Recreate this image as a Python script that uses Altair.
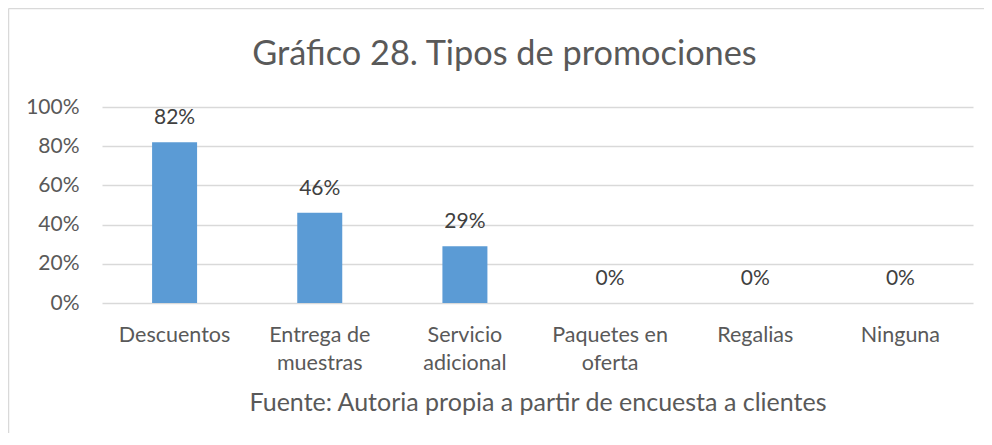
import altair as alt
import pandas as pd

categories = ["Descuentos", "Entrega de muestras", "Servicio adicional",
              "Paquetes en oferta", "Regalias", "Ninguna"]
values = [0.82, 0.46, 0.29, 0.0, 0.0, 0.0]
y_ticks = [0, 0.2, 0.4, 0.6, 0.8, 1.0]

title_text = "Gráfico 28. Tipos de promociones"
source_text = "Fuente: Autoria propia a partir de encuesta a clientes"

df = pd.DataFrame({"categoria": categories, "valor": values})

FONT = "Lato"
TXT = "#595959"
GRID = "#D9D9D9"

label_expr = ("lastindexof(datum.label,' ') > 0 ? "
              "[substring(datum.label,0,lastindexof(datum.label,' ')), "
              "substring(datum.label,lastindexof(datum.label,' ')+1)] : datum.label")

x_enc = alt.X("categoria:N", sort=categories,
              scale=alt.Scale(paddingInner=0.69, paddingOuter=0.345),
              axis=alt.Axis(title=source_text, labelAngle=0, labelExpr=label_expr,
                            labelFont=FONT, labelFontSize=21.5, labelColor=TXT,
                            labelLineHeight=28, labelPadding=21, ticks=False,
                            domain=False, titleFont=FONT, titleFontSize=25,
                            titleFontWeight="normal", titleColor=TXT,
                            titlePadding=17))
y_axis = alt.Axis(title=None, values=y_ticks, format=".0%",
                  labelFont=FONT, labelFontSize=21, labelColor=TXT,
                  labelPadding=23, ticks=False, domain=False,
                  labelOverlap=False, labelFlush=False,
                  grid=True, gridColor=GRID, gridWidth=1.5)
y_enc = alt.Y("valor:Q", scale=alt.Scale(domain=[0, 1], nice=False), axis=y_axis)

frame_df = pd.DataFrame({"k": [0]})
left_edge = alt.Chart(frame_df).mark_rule(color=GRID, strokeWidth=1.5, clip=False).encode(
    x=alt.value(-93.5), y=alt.value(-98.5), y2=alt.value(800)
)
top_edge = alt.Chart(frame_df).mark_rule(color=GRID, strokeWidth=1.5, clip=False).encode(
    x=alt.value(-93.5), x2=alt.value(1200), y=alt.value(-98.5)
)

title_mark = alt.Chart(pd.DataFrame({"t": [title_text]})).mark_text(
    font=FONT, fontSize=34.3, color=TXT, align="center", baseline="alphabetic"
).encode(x=alt.value(402.5), y=alt.value(-42), text="t:N")

bars = alt.Chart(df).mark_bar(color="#5B9BD5").encode(x=x_enc, y=y_enc)

labels = alt.Chart(df).mark_text(baseline="bottom", dy=-14, font=FONT, fontSize=21,
                                 color="#404040").encode(
    x=alt.X("categoria:N", sort=categories),
    y=y_enc,
    text=alt.Text("valor:Q", format=".0%"),
)

chart = alt.layer(left_edge, top_edge, title_mark, bars, labels).properties(
    width=871, height=196,
    autosize=alt.AutoSizeParams(type="none"),
    padding={"left": 94, "top": 99, "right": 11, "bottom": 130},
).configure(background="white").configure_view(strokeWidth=0)

chart.save("out.html", embed_options={"renderer": "svg", "actions": False})
